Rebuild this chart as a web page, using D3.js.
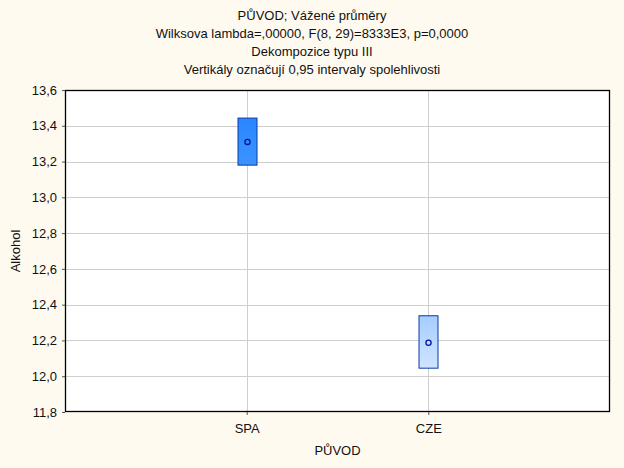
<!DOCTYPE html>
<html lang="en">
<head>
  <meta charset="utf-8">
  <script src="https://cdn.jsdelivr.net/npm/d3@7/dist/d3.min.js"></script>
  <style>
    body { margin: 0; background: #fffaef; font-family: "Liberation Sans", Arial, sans-serif; }
    #chart { display: block; }
    .axis text { font-size: 13px; fill: #111; }
    .title { font-size: 13px; fill: #111; text-anchor: middle; }
  </style>
</head>
<body>
  <svg id="chart"></svg>
  <script>
    // data
    var categories = ['SPA', 'CZE'];
    var means = [13.31, 12.187];
    var lower = [13.18, 12.045];
    var upper = [13.443, 12.338];
    var yTicks = [11.8, 12.0, 12.2, 12.4, 12.6, 12.8, 13.0, 13.2, 13.4, 13.6];
    var titleLines = [
      'PŮVOD; Vážené průměry',
      'Wilksova lambda=,00000, F(8, 29)=8333E3, p=0,0000',
      'Dekompozice typu III',
      'Vertikály označují 0,95 intervaly spolehlivosti'
    ];

    var W = 624, H = 468;
    var margin = { top: 90, left: 65, bottom: 56, right: 14 };
    var width = W - margin.left - margin.right;
    var height = H - margin.top - margin.bottom;

    var svg = d3.select('#chart').attr('width', W).attr('height', H);

    var defs = svg.append('defs');
    function grad(id, c1, c2) {
      var g = defs.append('linearGradient').attr('id', id)
        .attr('x1', 0).attr('y1', 0).attr('x2', 0).attr('y2', 1);
      g.append('stop').attr('offset', '0%').attr('stop-color', c1);
      g.append('stop').attr('offset', '100%').attr('stop-color', c2);
    }
    grad('g0', '#2b86ff', '#3a94ff');
    grad('g1', '#a6cdff', '#cfe4ff');
    var fills = ['url(#g0)', 'url(#g1)'];

    svg.selectAll('.title')
      .data(titleLines)
      .enter().append('text')
      .attr('class', 'title')
      .attr('x', 312)
      .attr('y', function (d, i) { return 20 + i * 18; })
      .text(function (d) { return d; });

    var g = svg.append('g')
      .attr('transform', 'translate(' + margin.left + ',' + margin.top + ')');

    var x = d3.scalePoint().domain(categories).range([0, width]).padding(1);
    var y = d3.scaleLinear().domain([11.8, 13.6]).range([height, 0]);

    g.append('rect')
      .attr('width', width).attr('height', height)
      .attr('fill', '#fff');

    // grid
    g.selectAll('.hgrid')
      .data(yTicks.slice(1, -1))
      .enter().append('line')
      .attr('x1', 0).attr('x2', width)
      .attr('y1', function (d) { return Math.round(y(d)) + 0.5; })
      .attr('y2', function (d) { return Math.round(y(d)) + 0.5; })
      .attr('stroke', '#cfcfcf');

    g.selectAll('.vgrid')
      .data(categories)
      .enter().append('line')
      .attr('y1', 0).attr('y2', height)
      .attr('x1', function (d) { return Math.round(x(d)) + 0.5; })
      .attr('x2', function (d) { return Math.round(x(d)) + 0.5; })
      .attr('stroke', '#cfcfcf');

    var yAxis = d3.axisLeft(y).tickValues(yTicks).tickSize(3).tickPadding(5)
      .tickFormat(function (d) { return d3.format('.1f')(d).replace('.', ','); });
    var xAxis = d3.axisBottom(x).tickSize(3).tickPadding(9);

    g.append('g').attr('class', 'y axis').call(yAxis)
      .call(function (s) { s.select('.domain').remove(); });
    g.append('g').attr('class', 'x axis')
      .attr('transform', 'translate(0,' + height + ')')
      .call(xAxis)
      .call(function (s) { s.select('.domain').remove(); });

    g.selectAll('.axis line').attr('stroke', '#555');

    // boxes (CI)
    var bw = 19;
    g.selectAll('.box')
      .data(categories)
      .enter().append('rect')
      .attr('class', 'box')
      .attr('x', function (d) { return Math.round(x(d)) - bw / 2 + 0.5; })
      .attr('y', function (d, i) { return y(upper[i]); })
      .attr('width', bw)
      .attr('height', function (d, i) { return y(lower[i]) - y(upper[i]); })
      .attr('fill', function (d, i) { return fills[i]; })
      .attr('stroke', '#0a3aa6')
      .attr('stroke-width', 1);

    g.selectAll('.mean')
      .data(categories)
      .enter().append('circle')
      .attr('class', 'mean')
      .attr('cx', function (d) { return Math.round(x(d)) + 0.5; })
      .attr('cy', function (d, i) { return y(means[i]); })
      .attr('r', 2.6)
      .attr('fill', 'none')
      .attr('stroke', '#0014a0')
      .attr('stroke-width', 1.3);

    // frame
    g.append('rect')
      .attr('x', 0.5).attr('y', 0.5)
      .attr('width', width - 1).attr('height', height - 1)
      .attr('fill', 'none').attr('stroke', '#000').attr('stroke-width', 1.3);

    svg.append('text')
      .attr('class', 'title')
      .attr('transform', 'translate(' + 20 + ',' + (margin.top + height / 2) + ') rotate(-90)')
      .text('Alkohol');

    svg.append('text')
      .attr('class', 'title')
      .attr('x', margin.left + width / 2)
      .attr('y', 455)
      .text('PŮVOD');
  </script>
</body>
</html>
